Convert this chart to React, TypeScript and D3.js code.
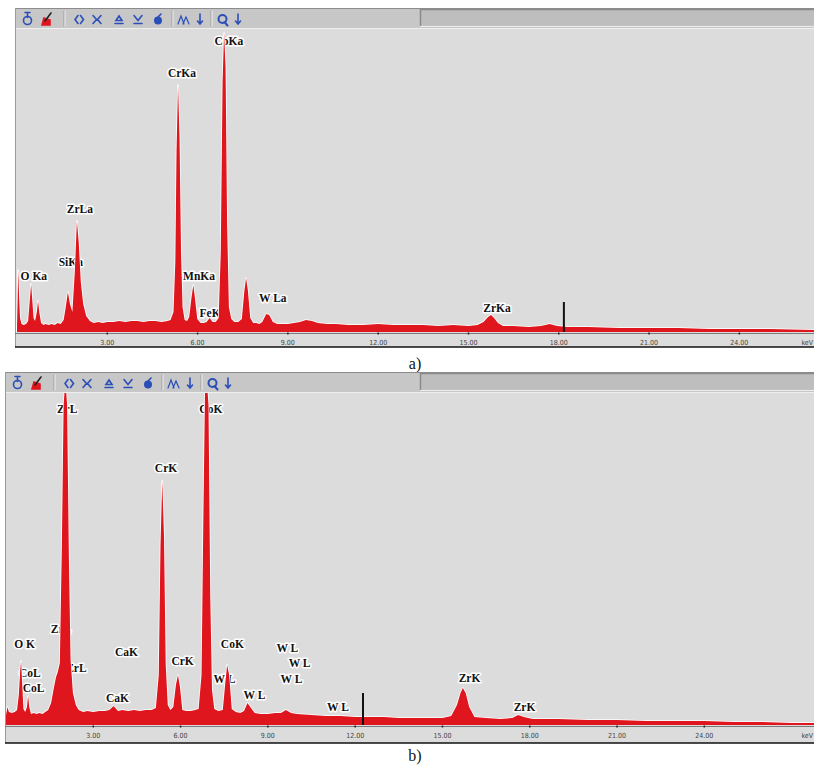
import { useEffect, useRef } from "react"
import * as d3 from "d3"

type Pt = [number, number]

// Spectrum a) : [energy keV, counts]
const spectrumA: Pt[] = [
  [0.0, 6], [0.02, 30], [0.04, 62], [0.07, 35], [0.1, 14], [0.15, 8], [0.22, 7], [0.3, 8],
  [0.37, 11], [0.42, 30], [0.47, 48], [0.5, 35], [0.55, 14], [0.6, 11], [0.66, 20], [0.7, 31],
  [0.74, 20], [0.8, 9], [0.88, 7], [0.95, 8], [1.05, 7], [1.15, 8], [1.25, 7], [1.35, 9],
  [1.45, 8], [1.55, 12], [1.62, 25], [1.69, 40], [1.76, 28], [1.84, 20], [1.92, 60], [1.99, 111],
  [2.05, 90], [2.12, 50], [2.2, 28], [2.3, 16], [2.42, 11], [2.55, 9], [2.7, 10], [2.85, 9],
  [3.0, 10], [3.2, 10], [3.4, 11], [3.6, 10], [3.8, 11], [4.0, 11], [4.2, 10], [4.4, 11],
  [4.6, 11], [4.8, 10], [5.0, 11], [5.1, 12], [5.2, 20], [5.26, 70], [5.3, 180], [5.35, 247],
  [5.4, 195], [5.45, 80], [5.5, 25], [5.57, 12], [5.65, 11], [5.72, 15], [5.8, 35], [5.86, 47],
  [5.92, 32], [5.99, 13], [6.1, 9], [6.2, 9], [6.3, 10], [6.4, 14], [6.5, 10], [6.6, 10],
  [6.7, 14], [6.77, 80], [6.83, 250], [6.88, 299], [6.93, 265], [6.98, 110], [7.04, 25], [7.12, 13],
  [7.22, 10], [7.35, 10], [7.47, 13], [7.55, 40], [7.61, 54], [7.67, 42], [7.75, 14], [7.85, 9],
  [7.95, 9], [8.05, 8], [8.15, 10], [8.28, 18], [8.38, 17], [8.5, 10], [8.65, 8], [8.8, 8],
  [9.0, 8], [9.2, 9], [9.4, 10], [9.6, 12], [9.8, 11], [10.0, 9], [10.3, 8], [10.6, 8],
  [11.0, 7], [11.5, 7], [12.0, 8], [12.5, 7], [13.0, 7], [13.5, 7], [14.0, 6], [14.5, 7],
  [15.0, 6], [15.3, 7], [15.5, 10], [15.65, 15], [15.75, 17], [15.85, 14], [15.98, 9], [16.15, 6],
  [16.5, 6], [17.0, 5], [17.4, 6], [17.7, 8], [17.95, 6], [18.3, 5], [19.0, 5], [20.0, 4],
  [21.0, 4], [22.0, 4], [23.0, 3], [24.0, 3], [25.0, 3], [26.5, 2],
]

// Spectrum b)
const spectrumB: Pt[] = [
  [0.0, 10], [0.05, 18], [0.1, 13], [0.2, 12], [0.3, 13], [0.38, 15], [0.44, 30], [0.49, 55],
  [0.52, 64], [0.55, 45], [0.6, 16], [0.66, 13], [0.72, 18], [0.76, 29], [0.8, 18], [0.86, 11],
  [0.95, 12], [1.05, 11], [1.15, 12], [1.25, 11], [1.35, 13], [1.45, 15], [1.55, 22], [1.65, 38],
  [1.72, 48], [1.78, 53], [1.85, 62], [1.92, 180], [1.98, 320], [2.04, 345], [2.1, 320], [2.16, 170],
  [2.22, 65], [2.3, 32], [2.4, 20], [2.5, 15], [2.65, 13], [2.8, 14], [3.0, 13], [3.2, 14],
  [3.4, 14], [3.55, 15], [3.7, 19], [3.85, 14], [4.0, 15], [4.2, 14], [4.4, 15], [4.6, 14],
  [4.8, 15], [5.0, 15], [5.15, 17], [5.25, 50], [5.31, 180], [5.37, 244], [5.43, 190], [5.49, 60],
  [5.56, 20], [5.65, 15], [5.75, 18], [5.84, 40], [5.91, 50], [5.98, 38], [6.06, 15], [6.2, 14],
  [6.35, 14], [6.5, 15], [6.62, 16], [6.72, 50], [6.78, 200], [6.84, 335], [6.9, 345], [6.96, 320],
  [7.02, 130], [7.08, 35], [7.16, 16], [7.3, 14], [7.45, 15], [7.53, 40], [7.6, 60], [7.67, 50],
  [7.76, 16], [7.9, 13], [8.05, 12], [8.18, 14], [8.3, 22], [8.42, 17], [8.55, 12], [8.75, 11],
  [9.0, 11], [9.25, 12], [9.45, 12], [9.62, 15], [9.8, 12], [10.0, 11], [10.5, 10], [11.0, 9],
  [11.5, 9], [12.0, 8], [12.5, 8], [13.0, 8], [13.5, 7], [14.0, 7], [14.5, 7], [15.0, 7],
  [15.3, 9], [15.5, 20], [15.62, 32], [15.7, 37], [15.8, 32], [15.92, 18], [16.1, 8], [16.5, 7],
  [17.0, 6], [17.4, 7], [17.6, 10], [17.8, 8], [18.1, 6], [19.0, 6], [20.0, 5], [21.0, 5],
  [22.0, 4], [23.0, 4], [24.0, 4], [25.0, 3], [26.0, 3], [27.0, 2], [27.8, 2],
]

// peak labels: text, energy, counts (label centre)
const labelsA = [
  { text: "CoKa", kev: 7.04, cnt: 291 },
  { text: "CrKa", kev: 5.48, cnt: 259 },
  { text: "ZrLa", kev: 2.09, cnt: 123 },
  { text: "SiKa", kev: 1.79, cnt: 70 },
  { text: "O Ka", kev: 0.56, cnt: 56 },
  { text: "MnKa", kev: 6.05, cnt: 56 },
  { text: "FeKa", kev: 6.51, cnt: 19 },
  { text: "W La", kev: 8.5, cnt: 34 },
  { text: "ZrKa", kev: 15.95, cnt: 24 },
]

const labelsB = [
  { text: "ZrL", kev: 2.1, cnt: 316 },
  { text: "CoK", kev: 7.04, cnt: 316 },
  { text: "CrK", kev: 5.5, cnt: 257 },
  { text: "O K", kev: 0.64, cnt: 81 },
  { text: "ZrL", kev: 1.89, cnt: 96 },
  { text: "CoL", kev: 0.82, cnt: 52 },
  { text: "CoL", kev: 0.95, cnt: 37 },
  { text: "ZrL", kev: 2.42, cnt: 57 },
  { text: "CaK", kev: 4.14, cnt: 73 },
  { text: "CaK", kev: 3.83, cnt: 27 },
  { text: "CrK", kev: 6.07, cnt: 64 },
  { text: "CoK", kev: 7.78, cnt: 81 },
  { text: "W L", kev: 7.51, cnt: 46 },
  { text: "W L", kev: 8.54, cnt: 30 },
  { text: "W L", kev: 9.67, cnt: 77 },
  { text: "W L", kev: 10.09, cnt: 62 },
  { text: "W L", kev: 9.81, cnt: 46 },
  { text: "W L", kev: 11.41, cnt: 18 },
  { text: "ZrK", kev: 15.93, cnt: 47 },
  { text: "ZrK", kev: 17.82, cnt: 18 },
]

const tickValues = [3, 6, 9, 12, 15, 18, 21, 24]
const markerA = { kev: 18.17, cnt: 30 }
const markerB = { kev: 12.27, cnt: 32 }

const W = 814
const H = 767
const RED = "#e0161e"
const BLUE = "#2b4fb8"

export default function App() {
  const svgRef = useRef<SVGSVGElement>(null)

  useEffect(() => {
    if (!svgRef.current) return
    const root = d3.select(svgRef.current)
    root.selectAll("*").remove()

    const panels = [
      { id: "a", data: spectrumA, labels: labelsA, marker: markerA, caption: "a)", left: 15, top: 8, x0: 17, maxKeV: 26.48, base: 332, maxCnt: 303, axisBottom: 347, captionY: 369 },
      { id: "b", data: spectrumB, labels: labelsB, marker: markerB, caption: "b)", left: 5, top: 372, x0: 6, maxKeV: 27.77, base: 725, maxCnt: 332, axisBottom: 743, captionY: 761 },
    ]

    panels.forEach((p) => {
      const g = root.append("g")
      const plotTop = p.top + 20
      const x = d3.scaleLinear().domain([0, p.maxKeV]).range([p.x0, W])
      const y = d3.scaleLinear().domain([0, p.maxCnt]).range([p.base, plotTop + 1])

      // toolbar
      g.append("rect").attr("x", p.left).attr("y", p.top).attr("width", W - p.left).attr("height", 20).attr("fill", "#c7c7c7")
      g.append("line").attr("x1", p.left).attr("x2", W).attr("y1", p.top + 0.5).attr("y2", p.top + 0.5).attr("stroke", "#8c8c8c")
      g.append("rect").attr("x", 420).attr("y", p.top + 1.5).attr("width", W - 420).attr("height", 16).attr("fill", "#bebebe")
      g.append("path").attr("d", `M420.5,${p.top + 18}V${p.top + 1.5}H${W}`).attr("fill", "none").attr("stroke", "#8a8a8a").attr("stroke-width", 1.5)
      g.append("line").attr("x1", 420).attr("x2", W).attr("y1", p.top + 18.5).attr("y2", p.top + 18.5).attr("stroke", "#ececec")

      // toolbar icons
      const ic = g.append("g").attr("transform", `translate(${p.left - 15},${p.top - 8})`)
        .attr("fill", "none").attr("stroke", BLUE).attr("stroke-width", 1.6).attr("stroke-linecap", "round")
      ic.append("circle").attr("cx", 27.5).attr("cy", 20.5).attr("r", 4)
      ic.append("path").attr("d", "M27.5,12.5V17.5M25,12.5H30")
      ic.append("path").attr("d", "M42,25L44,18L50,20L50,25Z").attr("fill", RED).attr("stroke", RED)
      ic.append("path").attr("d", "M45,21L51,13").attr("stroke", "#222")
      ic.append("path").attr("d", "M78,15.5L75,19.5L78,23.5M80.5,15.5L83.5,19.5L80.5,23.5")
      ic.append("path").attr("d", "M93,15.5L96.5,19.5L93,23.5M101,15.5L97.5,19.5L101,23.5")
      ic.append("path").attr("d", "M116,20.5L119,16L122,20.5ZM115,23.5H123")
      ic.append("path").attr("d", "M134,15.5L138,20.5L142,15.5M134,23.5H142")
      ic.append("circle").attr("cx", 158).attr("cy", 20.5).attr("r", 3.2).attr("fill", BLUE)
      ic.append("path").attr("d", "M158,17L161,14")
      ic.append("path").attr("d", "M178,24L181,16L184,24M183,24L186,17L189,24").attr("stroke-width", 1.2)
      ic.append("path").attr("d", "M200,14V24M197.5,21L200,24L202.5,21")
      ic.append("circle").attr("cx", 222.5).attr("cy", 19).attr("r", 4).attr("stroke-width", 2)
      ic.append("path").attr("d", "M224.5,22L227.5,25.5").attr("stroke-width", 2)
      ic.append("path").attr("d", "M238,14V24M235.5,21L238,24L240.5,21")
      ;[64, 172, 211].forEach((sx) => {
        ic.append("line").attr("x1", sx).attr("x2", sx).attr("y1", 11).attr("y2", 26).attr("stroke", "#9a9a9a").attr("stroke-width", 1)
        ic.append("line").attr("x1", sx + 1).attr("x2", sx + 1).attr("y1", 11).attr("y2", 26).attr("stroke", "#eeeeee").attr("stroke-width", 1)
      })

      // plot area
      g.append("rect").attr("x", p.left).attr("y", plotTop).attr("width", W - p.left).attr("height", p.axisBottom - plotTop).attr("fill", "#dcdcdc")
      g.append("line").attr("x1", p.left).attr("x2", W).attr("y1", plotTop + 0.5).attr("y2", plotTop + 0.5).attr("stroke", "#efefef")
      g.append("line").attr("x1", p.left + 0.5).attr("x2", p.left + 0.5).attr("y1", p.top).attr("y2", p.axisBottom).attr("stroke", "#9a9a9a")

      // labels (under the spectrum)
      g.append("g")
        .selectAll("text")
        .data(p.labels)
        .join("text")
        .attr("x", (d) => x(d.kev))
        .attr("y", (d) => y(d.cnt) + 4)
        .attr("text-anchor", "middle")
        .attr("font-family", "'Liberation Serif', 'DejaVu Serif', serif")
        .attr("font-weight", "bold")
        .attr("font-size", 11.5)
        .attr("fill", "#111")
        .attr("stroke", "#fff")
        .attr("stroke-width", 3)
        .attr("stroke-linejoin", "round")
        .attr("paint-order", "stroke")
        .text((d) => d.text)

      // spectrum
      const clipId = `clip-${p.id}`
      g.append("clipPath").attr("id", clipId)
        .append("rect").attr("x", p.left + 1).attr("y", plotTop + 1).attr("width", W - p.left).attr("height", p.base - plotTop - 1)
      const area = d3.area<Pt>().x((d) => x(d[0])).y0(y(0)).y1((d) => y(d[1]))
      g.append("path")
        .datum(p.data)
        .attr("clip-path", `url(#${clipId})`)
        .attr("d", area)
        .attr("fill", RED)
        .attr("stroke", "#ffffff")
        .attr("stroke-width", 1.6)
        .attr("stroke-linejoin", "round")
        .attr("paint-order", "stroke")

      // cursor marker
      g.append("line")
        .attr("x1", x(p.marker.kev)).attr("x2", x(p.marker.kev))
        .attr("y1", y(p.marker.cnt)).attr("y2", y(0))
        .attr("stroke", "#111").attr("stroke-width", 2)

      // energy axis
      g.append("line").attr("x1", p.left).attr("x2", W).attr("y1", p.base + 1.5).attr("y2", p.base + 1.5).attr("stroke", "#7a7a7a").attr("stroke-width", 1)
      g.append("g")
        .selectAll("line")
        .data(tickValues)
        .join("line")
        .attr("x1", (d) => x(d)).attr("x2", (d) => x(d))
        .attr("y1", p.base + 0.5).attr("y2", p.base + 2.5)
        .attr("stroke", "#222").attr("stroke-width", 1.5)
      g.append("g")
        .selectAll("text")
        .data(tickValues)
        .join("text")
        .attr("x", (d) => x(d))
        .attr("y", p.base + 12.5)
        .attr("text-anchor", "middle")
        .attr("font-family", "'DejaVu Sans Condensed', 'Liberation Sans Narrow', sans-serif")
        .attr("font-size", 7)
        .attr("fill", "#444")
        .text((d) => d3.format(".2f")(d))
      g.append("text")
        .attr("x", W - 1).attr("y", p.base + 12.5)
        .attr("text-anchor", "end")
        .attr("font-family", "'DejaVu Sans Condensed', sans-serif")
        .attr("font-size", 7).attr("fill", "#444")
        .text("keV")
      g.append("line").attr("x1", p.left).attr("x2", W).attr("y1", p.axisBottom).attr("y2", p.axisBottom).attr("stroke", "#111").attr("stroke-width", 1.6)

      // caption
      g.append("text")
        .attr("x", 415).attr("y", p.captionY)
        .attr("text-anchor", "middle")
        .attr("font-family", "'Liberation Serif', 'Times New Roman', serif")
        .attr("font-size", 16)
        .attr("fill", "#111")
        .text(p.caption)
    })
  }, [])

  return (
    <svg
      ref={svgRef}
      width={W}
      height={H}
      style={{ position: "absolute", left: 0, top: 0, background: "#fff" }}
    />
  )
}
